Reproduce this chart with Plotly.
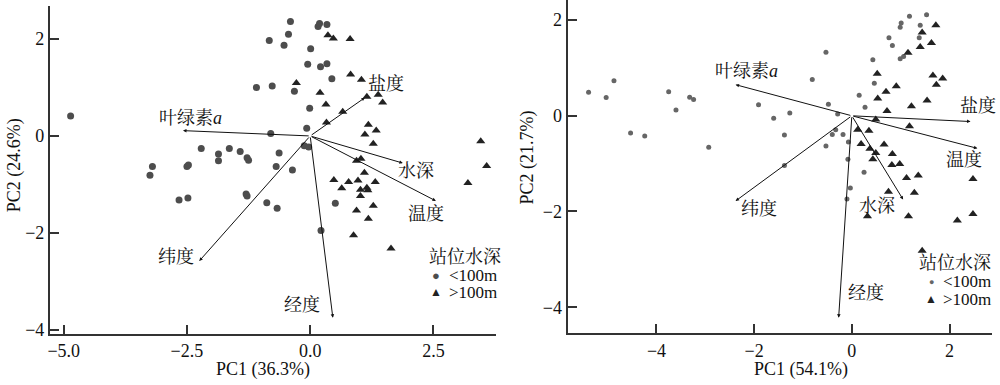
import plotly.graph_objects as go

# ---------------- Left panel data ----------------
L_lt100_x = [-4.86, -2.21, -1.86, -1.86, -1.64, -1.42, -1.28, -1.25, -3.20, -3.25, -2.50, -2.47,
             -2.66, -2.48, -1.30, -1.28, -0.40, 0.16, 0.19, 0.34, -0.44, -0.83, -0.53, 0.01,
             -0.05, 0.21, 0.34, 0.44, -1.09, -0.77, -0.32, -0.01, -0.07, -0.80, -0.12, -0.03,
             -0.63, -0.69, -0.36, -0.88, -0.67, 0.51, 0.22]
L_lt100_y = [0.41, -0.26, -0.37, -0.51, -0.26, -0.32, -0.45, -0.50, -0.63, -0.81, -0.63, -0.60,
             -1.32, -1.28, -1.20, -1.24, 2.36, 2.26, 2.32, 2.30, 2.10, 1.97, 1.87, 1.80,
             1.48, 1.43, 1.49, 1.18, 1.00, 1.03, 0.92, 0.57, 0.16, 0.05, -0.20, -0.23,
             -0.35, -0.63, -0.70, -1.38, -1.49, -1.39, -1.95]
L_gt100_x = [0.36, 0.47, 0.81, 0.82, 1.04, -0.28, 0.20, 1.15, 1.38, 1.47, 0.32, 0.66, 0.33,
             1.18, 1.11, 1.34, 1.28, 3.46, 3.58, 3.20, 0.94, 1.03, 1.10, 0.48, 0.78, 0.97,
             1.32, 0.64, 1.02, 1.15, 1.17, 1.02, 0.94, 1.28, 1.18, 0.88, 1.64]
L_gt100_y = [2.08, 2.01, 2.00, 1.27, 1.16, 1.09, 0.89, 0.81, 0.85, 0.69, 0.65, 0.50, 0.28,
             0.23, 0.03, 0.11, -0.16, -0.11, -0.62, -0.97, -0.51, -0.47, -0.76, -0.91, -0.95, -0.92,
             -0.95, -1.08, -1.11, -1.07, -1.12, -1.24, -1.54, -1.44, -1.71, -2.05, -2.32]

L_vars = ["叶绿素<i>a</i>", "盐度", "水深", "温度", "纬度", "经度"]
L_load_x = [-2.58, 1.11, 1.88, 2.55, -2.25, 0.46]
L_load_y = [0.11, 0.79, -0.56, -1.34, -2.58, -3.75]
L_lab_x = [-2.43, 1.53, 2.15, 2.35, -2.73, -0.16]
L_lab_y = [0.37, 1.08, -0.73, -1.62, -2.49, -3.49]

# ---------------- Right panel data ----------------
R_lt100_x = [-5.39, -5.03, -4.87, -4.53, -4.24, -3.75, -3.60, -3.32, -3.24, -2.93, -1.91,
             -1.60, -1.27, -1.38, -0.81, -0.53, -0.48, -0.29, -0.53, -0.40, -0.18, -0.33,
             -0.07, -1.38, -0.08, 0.25, -0.03, 0.15, 0.27, 0.46, 0.43, 0.76, 0.83, 0.99,
             1.01, 1.18, 1.53, 1.40, 1.38, 0.99, 1.06, -0.10]
R_lt100_y = [0.49, 0.38, 0.73, -0.36, -0.42, 0.50, 0.12, 0.39, 0.34, -0.66, 0.23,
             -0.05, 0.06, -0.40, 0.76, 1.33, 0.24, 0.04, -0.63, -0.39, -0.39, -0.29,
             -0.55, -1.04, -0.91, -1.18, -1.51, 0.43, 0.18, 0.68, 1.17, 1.63, 1.47, 1.85,
             1.94, 2.08, 2.11, 1.89, 1.63, 1.19, 1.24, -1.74]
R_gt100_x = [1.72, 1.44, 1.63, 1.40, 1.15, 0.52, 1.66, 1.86, 1.73, 0.91, 0.70, 0.53, 1.54,
             1.22, 0.72, 0.49, 1.18, 0.12, 0.35, 0.19, 0.37, 0.66, 0.49, 0.43, 0.83, 0.82,
             0.98, 1.12, 1.36, 2.48, 0.75, 1.28, 0.32, 1.16, 2.16, 2.48, 1.44]
R_gt100_y = [1.89, 1.74, 1.52, 1.44, 1.32, 0.88, 0.84, 0.78, 0.65, 0.62, 0.50, 0.36, 0.32,
             0.20, 0.10, -0.08, -0.22, -0.29, -0.31, -0.59, -0.69, -0.60, -0.78, -0.91, -0.80, -1.03,
             -1.01, -1.30, -1.25, -1.32, -1.59, -1.61, -2.10, -2.10, -2.19, -2.05, -2.82]

R_vars = ["叶绿素<i>a</i>", "盐度", "温度", "水深", "纬度", "经度"]
R_load_x = [-2.38, 2.43, 2.57, 1.05, -2.38, -0.27]
R_load_y = [0.65, -0.12, -0.68, -1.75, -1.78, -4.22]
R_lab_x = [-2.16, 2.59, 2.30, 0.51, -1.91, 0.29]
R_lab_y = [0.94, 0.20, -0.93, -1.88, -1.94, -3.70]

L_xticks = [-5.0, -2.5, 0.0, 2.5]
R_xticks = [-4, -2, 0, 2]
yticks = [2, 0, -2, -4]

legend_title = "站位水深"
legend_labels = ["<100m", ">100m"]

FONT = "Liberation Serif, Noto Serif CJK SC, Noto Sans CJK SC, serif"
TXT = "#111111"
CIRC_L = "#4d4d4d"
CIRC_R = "#666666"
TRI = "#222222"

fig = go.Figure()

fig.add_trace(go.Scatter(x=L_lt100_x, y=L_lt100_y, mode="markers", name=legend_labels[0],
                         marker=dict(symbol="circle", size=7, color=CIRC_L),
                         xaxis="x", yaxis="y", showlegend=False))
fig.add_trace(go.Scatter(x=L_gt100_x, y=L_gt100_y, mode="markers", name=legend_labels[1],
                         marker=dict(symbol="triangle-up", size=8, color=TRI),
                         xaxis="x", yaxis="y", showlegend=False))
fig.add_trace(go.Scatter(x=R_lt100_x, y=R_lt100_y, mode="markers", name=legend_labels[0],
                         marker=dict(symbol="circle", size=5, color=CIRC_R),
                         xaxis="x2", yaxis="y2", showlegend=False))
fig.add_trace(go.Scatter(x=R_gt100_x, y=R_gt100_y, mode="markers", name=legend_labels[1],
                         marker=dict(symbol="triangle-up", size=8, color=TRI),
                         xaxis="x2", yaxis="y2", showlegend=False))

annotations = []


def add_arrows(xs, ys, lx, ly, names, xr, yr):
    for x, y, tx, ty, n in zip(xs, ys, lx, ly, names):
        annotations.append(dict(x=x, y=y, ax=0, ay=0, xref=xr, yref=yr, axref=xr, ayref=yr,
                                showarrow=True, arrowhead=2, arrowsize=0.7, arrowwidth=1,
                                arrowcolor=TXT, text=""))
        annotations.append(dict(x=tx, y=ty, xref=xr, yref=yr, text=n, showarrow=False,
                                xanchor="center", yanchor="middle",
                                font=dict(family=FONT, size=18, color=TXT)))


add_arrows(L_load_x, L_load_y, L_lab_x, L_lab_y, L_vars, "x", "y")
add_arrows(R_load_x, R_load_y, R_lab_x, R_lab_y, R_vars, "x2", "y2")


def ptxt(text, px, py, size=18, angle=0, xanchor="center", color=TXT):
    annotations.append(dict(text=text, x=px / 1000, y=1 - py / 385, xref="paper", yref="paper",
                            showarrow=False, textangle=angle, xanchor=xanchor, yanchor="middle",
                            borderpad=0, font=dict(family=FONT, size=size, color=color)))


# axis titles
ptxt("PC1 (36.3%)", 262, 375)
ptxt("PC1 (54.1%)", 801, 375)
ptxt("PC2 (24.6%)", 12, 168, angle=-90)
ptxt("PC2 (21.7%)", 527, 160, angle=-90)

# legends (text-based)
ptxt(legend_title, 427, 261, xanchor="left")
ptxt("●", 435, 280, size=13, color=CIRC_L)
ptxt("▲", 435, 297, size=12, color=TRI)
ptxt(legend_labels[0], 447, 280, size=17, xanchor="left")
ptxt(legend_labels[1], 447, 297, size=17, xanchor="left")

ptxt(legend_title, 918, 267, xanchor="left")
ptxt("●", 931, 286, size=9, color=CIRC_R)
ptxt("▲", 931, 304, size=12, color=TRI)
ptxt(legend_labels[0], 942, 286, size=17, xanchor="left")
ptxt(legend_labels[1], 942, 304, size=17, xanchor="left")

axis_common = dict(showgrid=False, zeroline=False, showline=True, linecolor="#333",
                   linewidth=2, ticks="inside", ticklen=9, tickwidth=1.5, tickcolor="#333",
                   mirror=False, tickfont=dict(family=FONT, size=18, color=TXT))

fig.update_layout(
    width=1000, height=385,
    margin=dict(l=0, r=0, t=0, b=0),
    paper_bgcolor="white", plot_bgcolor="white",
    font=dict(family=FONT, size=18, color=TXT),
    showlegend=False,
    xaxis=dict(domain=[0.048, 0.495], range=[-5.28, 3.77], tickvals=L_xticks,
               ticktext=[("\u2212" if v < 0 else "") + f"{abs(v):.1f}" for v in L_xticks],
               anchor="y", **axis_common),
    yaxis=dict(domain=[0.1195, 0.984], range=[-4.08, 2.68], tickvals=yticks, anchor="x",
               **axis_common),
    xaxis2=dict(domain=[0.5667, 0.992], range=[-5.82, 2.87], tickvals=R_xticks, anchor="y2",
                **axis_common),
    yaxis2=dict(domain=[0.1213, 1.0], range=[-4.54, 2.42], tickvals=yticks, anchor="x2",
                **axis_common),
    annotations=annotations,
)

fig.write_html(
    "out.html",
    config={"displayModeBar": False},
    post_script="document.body.style.margin='0';document.body.style.padding='0';"
                "document.documentElement.style.overflow='hidden';",
)
